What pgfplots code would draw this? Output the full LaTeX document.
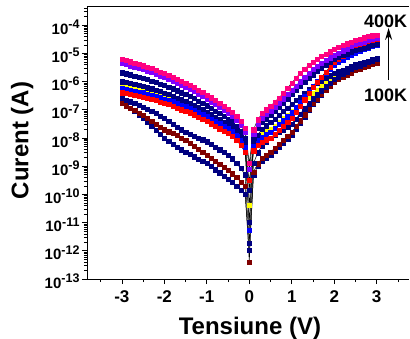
\documentclass[border=0pt]{standalone}
\usepackage{pgfplots}
\pgfplotsset{compat=1.18}
\usepackage{pgfplotstable}
\usetikzlibrary{arrows.meta}
\usepackage{fontspec}
\setmainfont{Liberation Sans}
\definecolor{cpink}{HTML}{FF0080}
\definecolor{cpurple}{HTML}{8000FF}
\definecolor{cnavy}{HTML}{000080}
\definecolor{cblue}{HTML}{0000FF}
\definecolor{cred}{HTML}{FF0000}
\definecolor{cyellow}{HTML}{FFFF00}
\definecolor{cwine}{HTML}{800000}
% log10 of current (A)
\pgfplotstableread{
V pink purple navyA navyB yellow blue red navyC wine navyD
-3.0 -5.21 -5.35 -5.68 -6.00 -6.12 -6.24 -6.39 -6.59 -6.77 -6.70
-2.9 -5.25 -5.39 -5.72 -6.03 -6.15 -6.27 -6.42 -6.65 -6.85 -6.81
-2.8 -5.29 -5.43 -5.75 -6.06 -6.18 -6.29 -6.45 -6.71 -6.93 -6.93
-2.7 -5.34 -5.48 -5.80 -6.10 -6.21 -6.33 -6.48 -6.77 -7.02 -7.05
-2.6 -5.38 -5.52 -5.83 -6.13 -6.24 -6.36 -6.51 -6.83 -7.11 -7.17
-2.5 -5.43 -5.57 -5.88 -6.17 -6.28 -6.39 -6.55 -6.90 -7.20 -7.30
-2.4 -5.48 -5.62 -5.92 -6.21 -6.32 -6.43 -6.59 -6.97 -7.30 -7.44
-2.3 -5.53 -5.67 -5.97 -6.25 -6.36 -6.47 -6.62 -7.05 -7.40 -7.58
-2.2 -5.59 -5.73 -6.02 -6.30 -6.40 -6.51 -6.67 -7.13 -7.50 -7.72
-2.1 -5.65 -5.79 -6.08 -6.35 -6.45 -6.56 -6.72 -7.21 -7.60 -7.86
-2.0 -5.71 -5.85 -6.13 -6.40 -6.50 -6.61 -6.77 -7.30 -7.70 -8.00
-1.9 -5.77 -5.91 -6.19 -6.45 -6.55 -6.65 -6.81 -7.40 -7.77 -8.11
-1.8 -5.84 -5.98 -6.25 -6.51 -6.61 -6.71 -6.87 -7.50 -7.84 -8.22
-1.7 -5.91 -6.05 -6.32 -6.58 -6.67 -6.77 -6.93 -7.60 -7.91 -8.32
-1.6 -5.98 -6.12 -6.39 -6.64 -6.72 -6.82 -6.99 -7.70 -7.99 -8.41
-1.5 -6.05 -6.19 -6.45 -6.70 -6.78 -6.88 -7.05 -7.78 -8.08 -8.50
-1.4 -6.12 -6.26 -6.52 -6.76 -6.84 -6.93 -7.10 -7.85 -8.18 -8.58
-1.3 -6.20 -6.34 -6.59 -6.83 -6.91 -7.00 -7.17 -7.92 -8.28 -8.66
-1.2 -6.29 -6.43 -6.68 -6.91 -6.99 -7.08 -7.25 -7.99 -8.39 -8.74
-1.1 -6.38 -6.52 -6.76 -6.99 -7.06 -7.15 -7.33 -8.06 -8.50 -8.82
-1.0 -6.47 -6.61 -6.85 -7.07 -7.14 -7.23 -7.40 -8.13 -8.60 -8.90
-0.9 -6.57 -6.71 -6.94 -7.16 -7.23 -7.32 -7.49 -8.22 -8.71 -9.01
-0.8 -6.67 -6.81 -7.04 -7.25 -7.32 -7.40 -7.58 -8.31 -8.82 -9.12
-0.7 -6.77 -6.91 -7.13 -7.34 -7.41 -7.49 -7.67 -8.41 -8.93 -9.23
-0.6 -6.87 -7.01 -7.23 -7.43 -7.49 -7.58 -7.75 -8.51 -9.04 -9.34
-0.5 -6.97 -7.11 -7.32 -7.52 -7.58 -7.66 -7.84 -8.62 -9.15 -9.45
-0.4 -7.07 -7.21 -7.42 -7.61 -7.67 -7.75 -7.93 -8.73 -9.26 -9.56
-0.3 -7.22 -7.36 -7.57 -7.76 -7.82 -7.90 -8.08 -8.90 -9.40 -9.70
-0.2 -7.40 -7.54 -7.75 -7.94 -8.00 -8.08 -8.26 -9.08 -9.55 -9.85
-0.1 -7.65 -7.79 -8.00 -8.19 -8.25 -8.33 -8.51 -9.30 -9.70 -10.00
0.0 -8.90 -9.10 -9.84 -10.97 -10.38 -11.26 -9.50 -11.72 -12.39 -11.97
0.1 -7.70 -7.85 -8.00 -8.20 -8.20 -8.30 -8.45 -8.90 -9.20 -9.30
0.2 -7.35 -7.51 -7.66 -7.89 -7.99 -8.09 -8.26 -8.52 -8.91 -9.01
0.3 -7.13 -7.30 -7.45 -7.68 -7.86 -7.96 -8.14 -8.28 -8.72 -8.82
0.4 -6.99 -7.16 -7.31 -7.56 -7.77 -7.87 -8.06 -8.13 -8.60 -8.70
0.5 -6.87 -7.05 -7.20 -7.45 -7.70 -7.80 -8.00 -8.00 -8.50 -8.60
0.6 -6.72 -6.90 -7.05 -7.32 -7.57 -7.66 -7.86 -7.90 -8.36 -8.46
0.7 -6.58 -6.75 -6.90 -7.19 -7.44 -7.52 -7.72 -7.80 -8.22 -8.32
0.8 -6.41 -6.60 -6.75 -7.06 -7.31 -7.38 -7.58 -7.70 -8.08 -8.18
0.9 -6.23 -6.45 -6.60 -6.93 -7.18 -7.24 -7.44 -7.60 -7.94 -8.04
1.0 -6.05 -6.30 -6.45 -6.80 -7.05 -7.10 -7.30 -7.50 -7.80 -7.90
1.1 -5.87 -6.15 -6.31 -6.67 -6.92 -6.91 -7.08 -7.32 -7.59 -7.68
1.2 -5.70 -6.00 -6.17 -6.54 -6.79 -6.72 -6.86 -7.14 -7.38 -7.46
1.3 -5.55 -5.85 -6.03 -6.41 -6.66 -6.53 -6.64 -6.96 -7.17 -7.24
1.4 -5.42 -5.70 -5.89 -6.28 -6.53 -6.34 -6.42 -6.78 -6.96 -7.02
1.5 -5.30 -5.55 -5.75 -6.15 -6.40 -6.15 -6.20 -6.60 -6.75 -6.80
1.6 -5.20 -5.45 -5.64 -6.06 -6.29 -6.00 -6.02 -6.46 -6.60 -6.64
1.7 -5.11 -5.35 -5.53 -5.97 -6.18 -5.85 -5.84 -6.32 -6.45 -6.47
1.8 -5.02 -5.25 -5.42 -5.88 -6.07 -5.70 -5.66 -6.18 -6.30 -6.31
1.9 -4.94 -5.15 -5.31 -5.79 -5.96 -5.55 -5.48 -6.04 -6.15 -6.14
2.0 -4.86 -5.05 -5.20 -5.70 -5.85 -5.40 -5.30 -5.90 -6.00 -5.98
2.1 -4.78 -4.98 -5.14 -5.64 -5.78 -5.31 -5.20 -5.82 -5.92 -5.89
2.2 -4.71 -4.90 -5.07 -5.58 -5.70 -5.23 -5.11 -5.73 -5.84 -5.80
2.3 -4.65 -4.83 -5.01 -5.52 -5.63 -5.14 -5.01 -5.65 -5.76 -5.70
2.4 -4.59 -4.75 -4.94 -5.46 -5.55 -5.06 -4.92 -5.56 -5.68 -5.61
2.5 -4.53 -4.68 -4.88 -5.40 -5.48 -4.97 -4.82 -5.48 -5.60 -5.52
2.6 -4.48 -4.63 -4.84 -5.35 -5.43 -4.92 -4.77 -5.43 -5.55 -5.46
2.7 -4.44 -4.59 -4.80 -5.31 -5.39 -4.86 -4.71 -5.37 -5.49 -5.40
2.8 -4.40 -4.54 -4.76 -5.26 -5.34 -4.81 -4.66 -5.32 -5.44 -5.35
2.9 -4.37 -4.50 -4.72 -5.22 -5.30 -4.75 -4.60 -5.26 -5.38 -5.29
3.0 -4.34 -4.45 -4.68 -5.17 -5.25 -4.70 -4.55 -5.21 -5.33 -5.23
}\ivdata

\pgfplotsset{ser/.style={black, line width=0.5pt, mark=square*, mark size=2.1pt,
  mark options={solid, draw=#1, fill=#1, line width=0.2pt}}}
\newcommand{\ytl}[1]{10\raisebox{5.5pt}{\fontsize{12.5}{12.5}\selectfont -#1}}

\begin{document}
\begin{tikzpicture}
\begin{axis}[
  name=ax,
  scale only axis, width=322pt, height=273pt,
  xmin=-3.82, xmax=3.76, ymin=-13, ymax=-3.32,
  axis x line*=box, axis y line*=left,
  axis line style={line width=0.8pt},
  clip=false,
  tick align=outside, xtick pos=left, ytick pos=left,
  major tick length=5pt, minor tick length=3pt,
  every tick/.style={black, line width=0.6pt},
  xtick={-3,-2,-1,0,1,2,3},
  xticklabels={-3,-2,-1,0,1,2,3},
  minor xtick={-3.5,-2.5,-1.5,-0.5,0.5,1.5,2.5,3.5},
  ytick={-13,-12,-11,-10,-9,-8,-7,-6,-5,-4},
  yticklabels={\ytl{13},\ytl{12},\ytl{11},\ytl{10},\ytl{9},\ytl{8},\ytl{7},\ytl{6},\ytl{5},\ytl{4}},
  minor ytick={-12.699,-12.523,-12.398,-12.301,-12.222,-12.155,-12.097,-12.046,
   -11.699,-11.523,-11.398,-11.301,-11.222,-11.155,-11.097,-11.046,
   -10.699,-10.523,-10.398,-10.301,-10.222,-10.155,-10.097,-10.046,
   -9.699,-9.523,-9.398,-9.301,-9.222,-9.155,-9.097,-9.046,
   -8.699,-8.523,-8.398,-8.301,-8.222,-8.155,-8.097,-8.046,
   -7.699,-7.523,-7.398,-7.301,-7.222,-7.155,-7.097,-7.046,
   -6.699,-6.523,-6.398,-6.301,-6.222,-6.155,-6.097,-6.046,
   -5.699,-5.523,-5.398,-5.301,-5.222,-5.155,-5.097,-5.046,
   -4.699,-4.523,-4.398,-4.301,-4.222,-4.155,-4.097,-4.046,
   -3.699,-3.523,-3.398},
  xticklabel style={font=\fontsize{17}{17}\selectfont\bfseries, yshift=-3pt},
  yticklabel style={font=\fontsize{15}{15}\selectfont\bfseries, anchor=east, xshift=1pt, yshift=-2pt},
  xlabel={Tensiune (V)},
  ylabel={Curent (A)},
  every axis x label/.style={at={(axis description cs:0.506,0)}, anchor=base, yshift=-55pt,
    font=\fontsize{24}{24}\selectfont\bfseries},
  every axis y label/.style={at={(axis description cs:0,0.507)}, rotate=90, anchor=base, yshift=58.5pt,
    font=\fontsize{24}{24}\selectfont\bfseries},
]
\addplot[ser=cyellow] table[x=V,y=yellow]{\ivdata};
\addplot[ser=cnavy] table[x=V,y=navyB]{\ivdata};
\addplot[ser=cnavy] table[x=V,y=navyD]{\ivdata};
\addplot[ser=cwine] table[x=V,y=wine]{\ivdata};
\addplot[ser=cnavy] table[x=V,y=navyC]{\ivdata};
\addplot[ser=cblue] table[x=V,y=blue]{\ivdata};
\addplot[ser=cred] table[x=V,y=red]{\ivdata};
\addplot[ser=cnavy] table[x=V,y=navyA]{\ivdata};
\addplot[ser=cpurple] table[x=V,y=purple]{\ivdata};
\addplot[ser=cpink] table[x=V,y=pink]{\ivdata};
\node[font=\fontsize{18}{18}\selectfont\bfseries, anchor=center] at (axis cs:3.21,-3.85) {400K};
\node[font=\fontsize{18}{18}\selectfont\bfseries, anchor=center] at (axis cs:3.21,-6.48) {100K};
\draw[-{Stealth[length=12pt,width=7pt]}, line width=1pt] (axis cs:3.28,-5.94) -- (axis cs:3.28,-4.10);
\coordinate (ll) at (rel axis cs:0,0);
\coordinate (ur) at (rel axis cs:1,1);
\end{axis}
\pgfresetboundingbox
\path ([shift={(-87pt,-59pt)}]ll) rectangle ([shift={(1pt,6pt)}]ur);
\end{tikzpicture}
\end{document}
